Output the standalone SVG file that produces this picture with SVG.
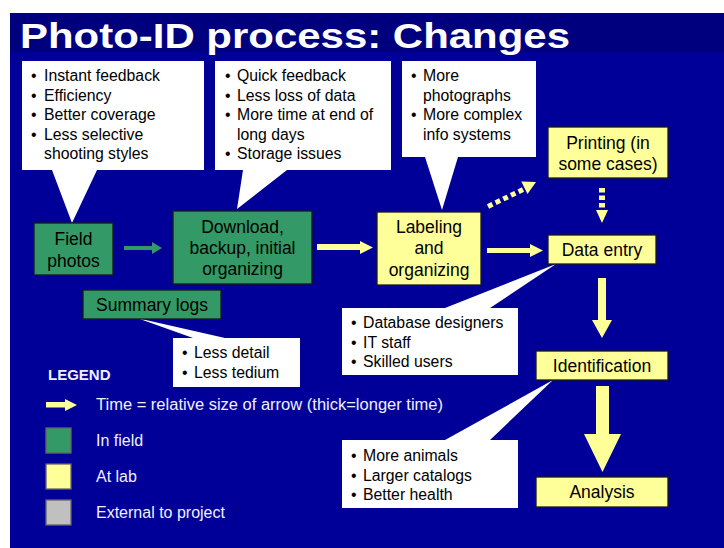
<svg xmlns="http://www.w3.org/2000/svg" width="724" height="548" viewBox="0 0 724 548">
<style>
text{font-family:"Liberation Sans",Arial,sans-serif;}
.box{stroke:#1a1a1a;stroke-width:1.3;}
.g{fill:#339966;}
.y{fill:#ffff99;}
.gr{fill:#c0c0c0;}
.bt{font-size:17.5px;fill:#000;text-anchor:middle;}
.ct{font-size:15.8px;fill:#000;}
.call{fill:#fff;}
.lt{font-size:16px;fill:#f0f0ff;}
.ya{fill:#ffff99;}
.leg{stroke:#666;stroke-width:1.3;}
</style>
<rect x="0" y="0" width="724" height="548" fill="#fff"/>
<rect x="10" y="13" width="714" height="535" fill="#000099"/>
<rect x="10" y="13" width="714" height="39" fill="#00007f"/>
<text x="20" y="48" font-size="35" font-weight="bold" fill="#fff" textLength="550" lengthAdjust="spacingAndGlyphs">Photo-ID process: Changes</text>

<g id="callout-field">
<path class="call" d="M22,61 H204 V170 H97 L72,223 L52,170 H22 Z"/>
<text class="ct"><tspan x="31" y="81">•</tspan><tspan x="44" y="81">Instant feedback</tspan><tspan x="31" y="100.5">•</tspan><tspan x="44" y="100.5">Efficiency</tspan><tspan x="31" y="120">•</tspan><tspan x="44" y="120">Better coverage</tspan><tspan x="31" y="139.5">•</tspan><tspan x="44" y="139.5">Less selective</tspan><tspan x="44" y="159">shooting styles</tspan></text>
</g>
<g id="callout-download">
<path class="call" d="M215,61 H391 V170 H287 L237,209 L243,170 H215 Z"/>
<text class="ct"><tspan x="225" y="81">•</tspan><tspan x="237" y="81">Quick feedback</tspan><tspan x="225" y="100.5">•</tspan><tspan x="237" y="100.5">Less loss of data</tspan><tspan x="225" y="120">•</tspan><tspan x="237" y="120">More time at end of</tspan><tspan x="237" y="139.5">long days</tspan><tspan x="225" y="159">•</tspan><tspan x="237" y="159">Storage issues</tspan></text>
</g>
<g id="callout-labeling">
<path class="call" d="M402,61 H536 V157 H458 L442,210 L425,157 H402 Z"/>
<text class="ct"><tspan x="411" y="81">•</tspan><tspan x="423" y="81">More</tspan><tspan x="423" y="100.5">photographs</tspan><tspan x="411" y="120">•</tspan><tspan x="423" y="120">More complex</tspan><tspan x="423" y="139.5">info systems</tspan></text>
</g>
<g id="callout-dataentry">
<path class="call" d="M342,308 H445 L556,264 L490,308 H518 V375 H342 Z"/>
<text class="ct"><tspan x="351" y="328">•</tspan><tspan x="363" y="328">Database designers</tspan><tspan x="351" y="347.5">•</tspan><tspan x="363" y="347.5">IT staff</tspan><tspan x="351" y="367">•</tspan><tspan x="363" y="367">Skilled users</tspan></text>
</g>
<g id="callout-identification">
<path class="call" d="M342,440 H445 L553,380 L490,440 H518 V508 H342 Z"/>
<text class="ct"><tspan x="351" y="461">•</tspan><tspan x="363" y="461">More animals</tspan><tspan x="351" y="480.5">•</tspan><tspan x="363" y="480.5">Larger catalogs</tspan><tspan x="351" y="500">•</tspan><tspan x="363" y="500">Better health</tspan></text>
</g>
<g id="callout-summary">
<path class="call" d="M173,338 H193 L137,318 L225,338 H300 V387 H173 Z"/>
<text class="ct"><tspan x="182" y="358">•</tspan><tspan x="194" y="358">Less detail</tspan><tspan x="182" y="377.5">•</tspan><tspan x="194" y="377.5">Less tedium</tspan></text>
</g>

<g id="connectors">
<polygon class="g" points="124,246 152,246 152,242 162,248 152,254 152,250 124,250"/>
<polygon class="ya" points="317,244 360,244 360,241 373,247.5 360,254 360,250 317,250"/>
<polygon class="ya" points="487,248 530,248 530,244 543,250.5 530,257 530,253 487,253"/>
<line x1="488" y1="206.5" x2="523" y2="189.5" stroke="#ffff99" stroke-width="5" stroke-dasharray="5,3.5"/>
<polygon class="ya" points="536,182 527.5,194.1 521.3,181.5"/>
<line x1="602" y1="188" x2="602" y2="210" stroke="#ffff99" stroke-width="6" stroke-dasharray="4.5,3"/>
<polygon class="ya" points="596,210 608,210 602,223"/>
<polygon class="ya" points="598,278 606,278 606,320 612,320 602,338 592,320 598,320"/>
<polygon class="ya" points="596,386 609,386 609,434 621,434 602.5,472 584,434 596,434"/>
</g>

<g id="field-photos">
<rect class="box g" x="34" y="223" width="79" height="52"/>
<text class="bt" x="73.5" y="245">Field</text>
<text class="bt" x="73.5" y="267">photos</text>
</g>
<g id="download">
<rect class="box g" x="173" y="211" width="139" height="73"/>
<text class="bt" x="242.5" y="233">Download,</text>
<text class="bt" x="242.5" y="254">backup, initial</text>
<text class="bt" x="242.5" y="275">organizing</text>
</g>
<g id="labeling">
<rect class="box y" x="377" y="212" width="104" height="73"/>
<text class="bt" x="429" y="233">Labeling</text>
<text class="bt" x="429" y="254">and</text>
<text class="bt" x="429" y="276">organizing</text>
</g>
<g id="printing">
<rect class="box y" x="548" y="127" width="120" height="51"/>
<text class="bt" x="608" y="149">Printing (in</text>
<text class="bt" x="608" y="170">some cases)</text>
</g>
<g id="data-entry">
<rect class="box y" x="548" y="235" width="108" height="29"/>
<text class="bt" x="602" y="256">Data entry</text>
</g>
<g id="identification">
<rect class="box y" x="536" y="351" width="132" height="29"/>
<text class="bt" x="602" y="372">Identification</text>
</g>
<g id="analysis">
<rect class="box y" x="536" y="477" width="132" height="30"/>
<text class="bt" x="602" y="498">Analysis</text>
</g>
<g id="summary-logs">
<rect class="box g" x="83" y="290" width="138" height="29"/>
<text class="bt" x="152" y="311">Summary logs</text>
</g>

<g id="legend">
<text x="48" y="380" font-size="15" font-weight="bold" fill="#f0f0ff">LEGEND</text>
<polygon class="ya" points="46,402 65,402 65,399 77,405 65,411 65,407.5 46,407.5"/>
<text class="lt" x="96" y="410" textLength="347" lengthAdjust="spacingAndGlyphs">Time = relative size of arrow (thick=longer time)</text>
<rect class="leg g" x="46" y="428" width="25" height="25"/>
<text class="lt" x="96" y="446">In field</text>
<rect class="leg y" x="46" y="464" width="25" height="25"/>
<text class="lt" x="96" y="482">At lab</text>
<rect class="leg gr" x="46" y="500" width="25" height="25"/>
<text class="lt" x="96" y="518">External to project</text>
</g>
</svg>
